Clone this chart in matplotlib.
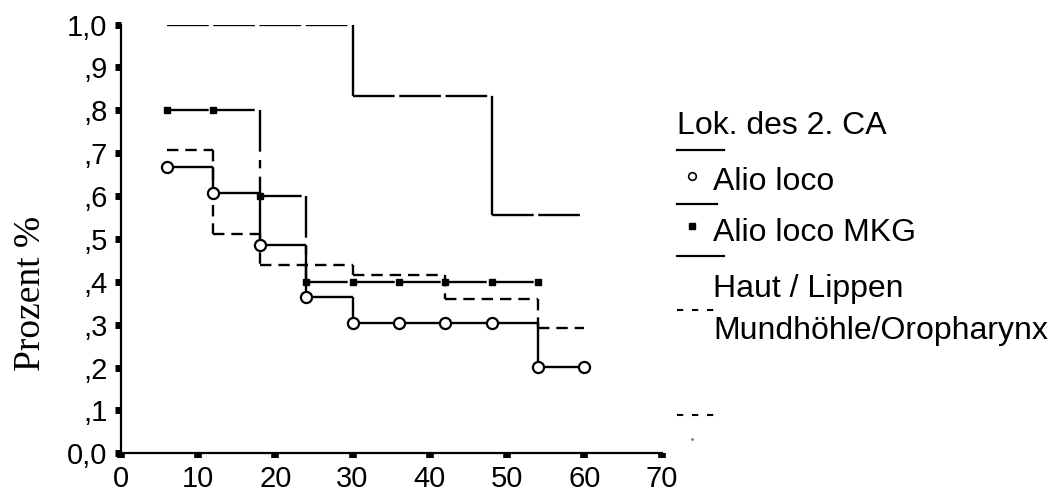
import matplotlib
matplotlib.use("Agg")
import matplotlib.pyplot as plt
from matplotlib.lines import Line2D

plt.rcParams['lines.scale_dashes'] = False

# ---- data ----
alio_times = [6, 12, 18, 24, 30, 54]
alio_surv = [0.667, 0.606, 0.485, 0.364, 0.303, 0.202]
alio_end = 60
alio_marks = [6, 12, 18, 24, 30, 36, 42, 48, 54, 60]

mkg_times = [6, 18, 24]
mkg_surv = [0.8, 0.6, 0.4]
mkg_end = 54
mkg_marks = [6, 12, 18, 24, 30, 36, 42, 48, 54]

haut_times = [6, 30, 48]
haut_surv = [1.0, 0.833, 0.556]
haut_end = 60

mund_times = [6, 12, 18, 30, 42, 54]
mund_surv = [0.707, 0.511, 0.439, 0.416, 0.359, 0.293]
mund_end = 60

x_ticks = [0, 10, 20, 30, 40, 50, 60, 70]
y_ticks = [0.0, 0.1, 0.2, 0.3, 0.4, 0.5, 0.6, 0.7, 0.8, 0.9, 1.0]
y_tick_labels = ['0,0', ',1', ',2', ',3', ',4', ',5', ',6', ',7', ',8', ',9', '1,0']

legend_title = 'Lok. des 2. CA'
legend_labels = ['Alio loco', 'Alio loco MKG', 'Haut / Lippen', 'Mundhöhle/Oropharynx']
y_label = 'Prozent %'

W, H = 1056, 492
fig = plt.figure(figsize=(W / 100, H / 100), dpi=100)
ax = fig.add_axes([120.7 / W, 1 - 453.3 / H, 541 / W, 428.8 / H])
ax.set_xlim(0, 70)
ax.set_ylim(0, 1.0)
for s in ['top', 'right']:
    ax.spines[s].set_visible(False)
for s in ['left', 'bottom']:
    ax.spines[s].set_linewidth(1.6)

LW = 1.7


def step(ax, times, surv, end, hstyle, vstyle, breaks=()):
    n = len(times)
    for i in range(n):
        x0 = times[i]
        x1 = times[i + 1] if i + 1 < n else end
        pts = [x0] + [b for b in breaks if x0 < b < x1] + [x1]
        for a, b in zip(pts[:-1], pts[1:]):
            ax.plot([a, b], [surv[i], surv[i]], color='black', lw=LW,
                    solid_capstyle='butt', dash_capstyle='butt', **hstyle)
        if i + 1 < n:
            ax.plot([x1, x1], [surv[i], surv[i + 1]], color='black', lw=LW,
                    solid_capstyle='butt', dash_capstyle='butt', **vstyle)


def value_at(times, surv, t):
    v = surv[0]
    for ti, si in zip(times, surv):
        if t >= ti:
            v = si
    return v


# Haut / Lippen: long dashes on horizontals, solid verticals
step(ax, haut_times, haut_surv, haut_end,
     dict(linestyle=(0, (30, 3.3))), dict(linestyle='-'))
# Mundhöhle: short dashes
step(ax, mund_times, mund_surv, mund_end,
     dict(linestyle=(0, (8.2, 5))), dict(linestyle=(0, (8.2, 5))))
# Alio loco MKG: dash-dot, pattern restarts at each mark
mkg_style = dict(linestyle=(0, (30, 6, 6, 6)))
step(ax, mkg_times, mkg_surv, mkg_end, mkg_style, mkg_style, breaks=mkg_marks)
# Alio loco: solid
step(ax, alio_times, alio_surv, alio_end, dict(linestyle='-'), dict(linestyle='-'))

ax.plot(mkg_marks, [value_at(mkg_times, mkg_surv, t) for t in mkg_marks],
        linestyle='none', marker='s', ms=4.5, color='black')
ax.plot(alio_marks, [value_at(alio_times, alio_surv, t) for t in alio_marks],
        linestyle='none', marker='o', ms=8, mfc='white', mec='black', mew=1.6)

ax.set_xticks(x_ticks)
ax.set_xticklabels([str(v) for v in x_ticks])
ax.set_yticks(y_ticks)
ax.set_yticklabels(y_tick_labels)
ax.tick_params(axis='x', direction='out', length=3.6, width=5.5, pad=4.5,
               labelsize=21)
ax.tick_params(axis='y', direction='out', length=4, width=5, pad=5.5,
               labelsize=21)
for lab in ax.get_xticklabels() + ax.get_yticklabels():
    lab.set_family('Liberation Sans')

fig.text(31 / W, 1 - 293 / H, y_label, rotation=90, ha='center', va='center',
         family='Liberation Serif', fontsize=27)


# ---- legend (SPSS style) ----
def fx(x):
    return x / W


def fy(y):
    return 1 - y / H


LFS = 23
fig.text(fx(677), fy(134.3), legend_title, ha='left', va='baseline',
         family='Liberation Sans', fontsize=LFS)
fig.add_artist(Line2D([fx(677), fx(724)], [fy(150), fy(150)], color='black', lw=1.6))
fig.add_artist(Line2D([fx(692.3)], [fy(176)], marker='o', ms=5.5, mfc='white',
                      mec='black', mew=1.2, linestyle='none'))
fig.text(fx(713.3), fy(190), legend_labels[0], ha='left', va='baseline',
         family='Liberation Sans', fontsize=LFS)
fig.add_artist(Line2D([fx(677), fx(717)], [fy(204), fy(204)], color='black', lw=1.6))
fig.add_artist(Line2D([fx(692.3)], [fy(226)], marker='s', ms=4, color='black',
                      linestyle='none'))
fig.text(fx(713.3), fy(240.7), legend_labels[1], ha='left', va='baseline',
         family='Liberation Sans', fontsize=LFS)
fig.add_artist(Line2D([fx(677), fx(724)], [fy(255.7), fy(255.7)], color='black', lw=1.6))
fig.text(fx(713.3), fy(296.7), legend_labels[2], ha='left', va='baseline',
         family='Liberation Sans', fontsize=LFS)
fig.add_artist(Line2D([fx(677), fx(721)], [fy(310), fy(310)], color='black', lw=1.5,
                      linestyle=(0, (4.5, 6.3)), dash_capstyle='butt'))
fig.text(fx(713.3), fy(339.3), legend_labels[3], ha='left', va='baseline',
         family='Liberation Sans', fontsize=LFS)
fig.add_artist(Line2D([fx(677), fx(721)], [fy(415), fy(415)], color='black', lw=1.5,
                      linestyle=(0, (4.5, 6.3)), dash_capstyle='butt'))
fig.add_artist(Line2D([fx(692.3)], [fy(439.3)], marker='s', ms=0.8, color='0.4',
                      linestyle='none'))

fig.savefig('out.png', dpi=100)
